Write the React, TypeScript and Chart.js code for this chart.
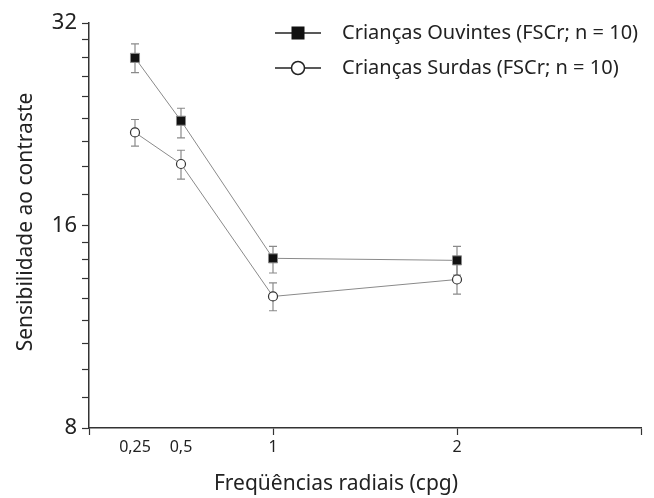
import React, { useEffect, useRef } from "react";
import { Chart, registerables } from "chart.js";
Chart.register(...registerables);

const frequencies = [0.25, 0.5, 1, 2];
const ouvintesMean = [28.4, 22.9, 14.3, 14.2];
const ouvintesUpper = [29.8, 23.9, 14.9, 14.9];
const ouvintesLower = [27.0, 21.6, 13.6, 13.5];
const surdasMean = [22.0, 19.75, 12.55, 13.3];
const surdasUpper = [23.0, 20.7, 13.15, 14.0];
const surdasLower = [21.0, 18.75, 11.95, 12.65];
const xTickValues = [0, 0.25, 0.5, 1, 2, 3];
const xTickLabels = ["", "0,25", "0,5", "1", "2", ""];
const yMajorTicks = [8, 16, 32];
const seriesNames = ["Crianças Ouvintes (FSCr; n = 10)", "Crianças Surdas (FSCr; n = 10)"];
const xTitle = "Freqüências radiais (cpg)";
const yTitle = "Sensibilidade ao contraste";

const FONT = "'Noto Sans', sans-serif";

function yTickList() {
  const out: number[] = [];
  for (let i = 0; i < yMajorTicks.length - 1; i++) {
    const a = yMajorTicks[i];
    const b = yMajorTicks[i + 1];
    for (let k = 0; k < 9; k++) out.push(a + ((b - a) * k) / 9);
  }
  out.push(yMajorTicks[yMajorTicks.length - 1]);
  return out;
}

const errorBarPlugin = {
  id: "errorBars",
  beforeDatasetsDraw(chart: any) {
    const { ctx, scales } = chart;
    const sets = [
      { up: ouvintesUpper, lo: ouvintesLower },
      { up: surdasUpper, lo: surdasLower },
    ];
    ctx.save();
    ctx.strokeStyle = "#8a8a8a";
    ctx.lineWidth = 1.2;
    sets.forEach((s) => {
      frequencies.forEach((f, i) => {
        const x = scales.x.getPixelForValue(f);
        const yt = scales.y.getPixelForValue(s.up[i]);
        const yb = scales.y.getPixelForValue(s.lo[i]);
        ctx.beginPath();
        ctx.moveTo(x, yt);
        ctx.lineTo(x, yb);
        ctx.moveTo(x - 4, yt);
        ctx.lineTo(x + 4, yt);
        ctx.moveTo(x - 4, yb);
        ctx.lineTo(x + 4, yb);
        ctx.stroke();
      });
    });
    ctx.restore();
  },
};

const decorPlugin = {
  id: "decor",
  afterDraw(chart: any) {
    const { ctx } = chart;
    ctx.save();
    // legend
    const lx1 = 275, lx2 = 321, mx = 298;
    const rows = [33, 68];
    ctx.strokeStyle = "#222";
    ctx.lineWidth = 1.5;
    rows.forEach((y) => {
      ctx.beginPath();
      ctx.moveTo(lx1, y);
      ctx.lineTo(lx2, y);
      ctx.stroke();
    });
    ctx.fillStyle = "#111";
    ctx.fillRect(mx - 6.5, rows[0] - 6.5, 13, 13);
    ctx.beginPath();
    ctx.arc(mx, rows[1], 6.5, 0, Math.PI * 2);
    ctx.fillStyle = "#fff";
    ctx.fill();
    ctx.stroke();
    ctx.fillStyle = "#222";
    ctx.font = `20px ${FONT}`;
    ctx.textBaseline = "middle";
    ctx.textAlign = "left";
    ctx.fillText(seriesNames[0], 342, rows[0]);
    ctx.fillText(seriesNames[1], 342, rows[1]);
    // axis titles
    ctx.font = `21px ${FONT}`;
    ctx.textAlign = "center";
    ctx.fillText(xTitle, 336, 484);
    ctx.translate(26, 222);
    ctx.rotate(-Math.PI / 2);
    ctx.fillText(yTitle, 0, 0);
    ctx.restore();
  },
};

export default function App() {
  const ref = useRef<HTMLCanvasElement>(null);
  useEffect(() => {
    document.body.style.margin = "0";
    const chart = new Chart(ref.current as HTMLCanvasElement, {
      type: "line",
      data: {
        datasets: [
          {
            label: seriesNames[0],
            data: frequencies.map((f, i) => ({ x: f, y: ouvintesMean[i] })),
            borderColor: "#8a8a8a",
            borderWidth: 1,
            pointStyle: "rect",
            pointRadius: 6.4,
            pointBackgroundColor: "#111",
            pointBorderColor: "#8a8a8a",
            pointBorderWidth: 1,
          },
          {
            label: seriesNames[1],
            data: frequencies.map((f, i) => ({ x: f, y: surdasMean[i] })),
            borderColor: "#8a8a8a",
            borderWidth: 1,
            pointStyle: "circle",
            pointRadius: 4.5,
            pointBackgroundColor: "#fff",
            pointBorderColor: "#333",
            pointBorderWidth: 1.2,
          },
        ],
      },
      options: {
        animation: false,
        responsive: false,
        maintainAspectRatio: false,
        layout: { padding: { top: 23, right: 13, left: 0, bottom: 0 } },
        plugins: { legend: { display: false }, tooltip: { enabled: false } },
        scales: {
          x: {
            type: "linear",
            min: 0,
            max: 3,
            afterBuildTicks: (s: any) => {
              s.ticks = xTickValues.map((v) => ({ value: v }));
            },
            afterFit: (s: any) => {
              s.height = 70;
            },
            ticks: {
              autoSkip: false,
              maxRotation: 0,
              padding: 3,
              color: "#222",
              font: { family: FONT, size: 16 },
              callback: (_v: any, i: number) => xTickLabels[i],
            },
            grid: {
              drawOnChartArea: false,
              tickLength: 7,
              tickWidth: 1.2,
              tickColor: (c: any) =>
                c.tick && (c.tick.value === 0.25 || c.tick.value === 0.5) ? "rgba(0,0,0,0)" : "#333",
            },
            border: { color: "#333", width: 1.5 },
          },
          y: {
            type: "logarithmic",
            min: 8,
            max: 32,
            afterBuildTicks: (s: any) => {
              s.ticks = yTickList().map((v) => ({ value: v, major: yMajorTicks.includes(v) }));
            },
            afterFit: (s: any) => {
              s.width = 89;
            },
            ticks: {
              autoSkip: false,
              padding: 5,
              color: "#222",
              font: { family: FONT, size: 22 },
              callback: (v: any) => (yMajorTicks.includes(Number(v)) ? String(v) : ""),
            },
            grid: {
              drawOnChartArea: false,
              tickLength: 7,
              tickWidth: 1.2,
              tickColor: "#333",
            },
            border: { color: "#333", width: 1.5 },
          },
        },
      },
      plugins: [errorBarPlugin, decorPlugin],
    });
    return () => chart.destroy();
  }, []);
  return (
    <div style={{ position: "absolute", left: 0, top: 0, width: 654, height: 498, background: "#fff" }}>
      <canvas ref={ref} width={654} height={498} style={{ width: 654, height: 498 }} />
    </div>
  );
}
